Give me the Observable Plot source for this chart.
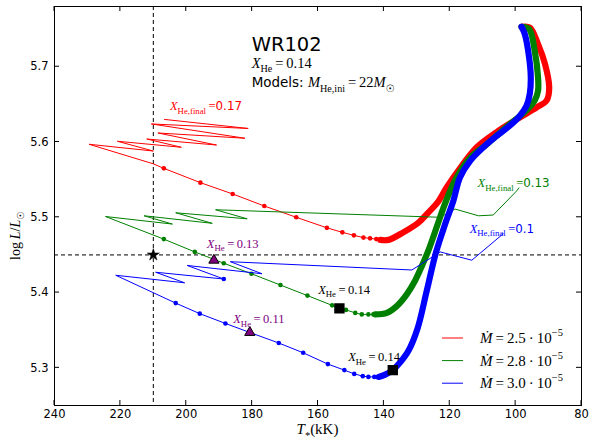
<!DOCTYPE html>
<html><head><meta charset="utf-8">
<script src="https://cdn.jsdelivr.net/npm/d3@7"></script>
<script src="https://cdn.jsdelivr.net/npm/@observablehq/plot@0.6"></script>
<style>html,body{margin:0;padding:0;background:#fff}svg{display:block}</style>
</head><body><div id="chart"></div>
<script>
// ---- axes ----
const xTicks = [240, 220, 200, 180, 160, 140, 120, 100, 80];
const yTicks = [5.3, 5.4, 5.5, 5.6, 5.7];
const xDomain = [240, 80];
const yDomain = [5.25, 5.78];

// ---- red track: Mdot = 2.5e-5 ----  [T (kK), log L]
const redThick = [[98.2,5.753],[95.7,5.752],[93.2,5.730],[91.1,5.704],[89.8,5.672],[90.6,5.655],[93.6,5.646],[99.7,5.630],[105.8,5.613],[111.8,5.593],[116.4,5.568],[120.9,5.540],[123.8,5.519],[126.6,5.506],[129.5,5.493],[134.1,5.480],[138.6,5.470],[141.1,5.470]];
const redDots = [[142.3,5.471],[144.2,5.472],[146.2,5.473],[149.1,5.476],[152.6,5.480],[157.3,5.486],[166.6,5.500],[176.3,5.515],[185.9,5.531],[195.7,5.546],[206.8,5.565]];
const redRest = [[210.0,5.571],[229.5,5.597],[210.0,5.588],[220.9,5.601],[201.5,5.593],[212.0,5.604],[190.8,5.596],[208.6,5.612],[182.2,5.605],[210.6,5.624],[181.2,5.618],[206.6,5.630]];

// ---- green track: Mdot = 2.8e-5 ----
const greenThick = [[98.2,5.753],[95.9,5.750],[94.2,5.721],[93.2,5.686],[93.2,5.668],[94.2,5.655],[96.7,5.642],[101.7,5.624],[108.8,5.597],[113.8,5.579],[117.9,5.553],[121.1,5.522],[123.8,5.489],[126.3,5.458],[128.4,5.436],[130.5,5.416],[133.0,5.398],[136.1,5.382],[139.1,5.373],[142.6,5.371]];
const greenDots = [[143.2,5.371],[144.7,5.371],[146.7,5.371],[148.7,5.373],[151.5,5.377],[155.7,5.383],[163.2,5.396],[171.4,5.410],[180.2,5.425],[188.6,5.439],[197.4,5.454],[206.8,5.471]];
const greenRest = [[224.5,5.501],[204.2,5.491],[212.8,5.502],[192.1,5.492],[203.2,5.506],[181.5,5.498],[191.1,5.510],[122.9,5.500],[118.4,5.511],[111.3,5.502],[106.8,5.503],[99.7,5.535],[99.0,5.539]];

// ---- blue track: Mdot = 3.0e-5 ----
const blueThick = [[98.2,5.753],[97.2,5.743],[95.9,5.712],[95.4,5.686],[95.7,5.664],[96.7,5.648],[98.7,5.635],[101.7,5.622],[105.8,5.608],[109.8,5.593],[113.8,5.575],[116.9,5.553],[118.9,5.522],[121.4,5.491],[124.2,5.453],[127.0,5.402],[129.8,5.352],[132.5,5.323],[135.1,5.307],[137.3,5.297],[139.6,5.291],[141.6,5.288]];
const blueDots = [[142.9,5.288],[144.7,5.288],[146.4,5.289],[149.0,5.292],[152.0,5.297],[157.0,5.305],[164.5,5.320],[171.9,5.333],[180.7,5.347],[188.1,5.359],[195.9,5.372],[203.2,5.386],[188.6,5.418]];
const blueRest = [[221.4,5.423],[200.5,5.413],[209.3,5.427],[188.6,5.418],[199.7,5.436],[177.0,5.425],[186.6,5.441],[131.5,5.430],[122.9,5.454],[113.3,5.443],[103.8,5.478]];

// ---- markers ----
const squares = [[153.5,5.379],[137.3,5.297]];
const triangles = [[191.6,5.443],[180.7,5.347]];
const star = [[210, 5.45]];
const refT = [210];
const refL = [5.45];

// ---- legend ----
const legendColors = ["#ff0000", "#008000", "#0000ff"];
const legendValues = ["2.5", "2.8", "3.0"];

const SERIF = "'Liberation Serif','DejaVu Serif',serif";
const SANS = "'DejaVu Sans',sans-serif";

const X = d => d[0], Y = d => d[1];
function track(thick, dots, rest, color) {
  const main = [...thick, ...dots.filter(d => !rest.some(r => r[0] === d[0] && r[1] === d[1])), ...rest];
  return [
    Plot.line(main, {x: X, y: Y, stroke: color, strokeWidth: 1}),
    Plot.dot(dots, {x: X, y: Y, r: 2.3, fill: color, stroke: "none"}),
    Plot.line(thick, {x: X, y: Y, stroke: color, strokeWidth: 6.2, curve: "catmull-rom", strokeLinecap: "round", strokeLinejoin: "round"})
  ];
}

const chart = Plot.plot({
  width: 609, height: 441,
  marginLeft: 54, marginRight: 28, marginTop: 6, marginBottom: 36,
  style: {fontFamily: SANS, fontSize: "11.5px", background: "white", color: "black", overflow: "visible"},
  x: {domain: xDomain},
  y: {domain: yDomain},
  marks: [
    Plot.axisX({ticks: xTicks, tickSize: 0, tickPadding: 4, label: null, tickFormat: d => String(d)}),
    Plot.axisY({ticks: yTicks, tickSize: 0, tickPadding: 6, label: null, tickFormat: d3.format(".1f")}),
    Plot.ruleX(refT, {stroke: "black", strokeWidth: 1, strokeDasharray: "4,3"}),
    Plot.ruleY(refL, {stroke: "black", strokeWidth: 1, strokeDasharray: "4,3"}),
    ...track(redThick, redDots, redRest, "#ff0000"),
    ...track(greenThick, greenDots, greenRest, "#008000"),
    ...track(blueThick, blueDots, blueRest, "#0000ff"),
    Plot.dot(squares, {x: X, y: Y, symbol: "square", r: 5, fill: "black", stroke: "black"}),
    Plot.dot(triangles, {x: X, y: Y, symbol: "triangle", r: 3.8, fill: "#800080", stroke: "black", strokeWidth: 1}),
    Plot.dot(star, {x: X, y: Y, symbol: "star", r: 3.8, fill: "black", stroke: "black", strokeWidth: 0.5}),
    Plot.frame({stroke: "black", strokeWidth: 1})
  ]
});
document.getElementById("chart").appendChild(chart);

const sx = chart.scale("x"), sy = chart.scale("y");
const svg = d3.select(chart);
const [xL, xR] = [sx.apply(240), sx.apply(80)];
const [yB, yT] = [sy.apply(5.25), sy.apply(5.78)];
const tk = svg.append("g").attr("stroke", "black").attr("stroke-width", 1);
for (const v of xTicks) {
  const px = sx.apply(v);
  tk.append("line").attr("x1", px).attr("x2", px).attr("y1", yB).attr("y2", yB - 5);
  tk.append("line").attr("x1", px).attr("x2", px).attr("y1", yT).attr("y2", yT + 5);
}
for (const v of yTicks) {
  const py = sy.apply(v);
  tk.append("line").attr("y1", py).attr("y2", py).attr("x1", xL).attr("x2", xL + 5);
  tk.append("line").attr("y1", py).attr("y2", py).attr("x1", xR).attr("x2", xR - 5);
}

function rich(x, y, size, color, parts, opts = {}) {
  const t = svg.append("text").attr("x", x).attr("y", y).attr("font-size", size)
    .attr("fill", color).attr("font-family", opts.family || SERIF)
    .attr("text-anchor", opts.anchor || "start").attr("style", "white-space:pre");
  if (opts.rotate) t.attr("transform", `rotate(${opts.rotate},${x},${y})`);
  let prev = 0;
  for (const p of parts) {
    const b = p.b || 0;
    const ts = t.append("tspan").text(p.t).attr("font-size", size * (p.s || 1));
    if (b !== prev) ts.attr("dy", (b - prev) * size);
    prev = b;
    if (p.i) ts.attr("font-style", "italic");
    if (p.sans) ts.attr("font-family", SANS);
    if (p.dx) ts.attr("dx", p.dx * size);
  }
  return t;
}
const sub = (t) => ({t, s: 0.7, b: 0.3});
const sup = (t) => ({t, s: 0.7, b: -0.45});

// annotations (data coordinates)
const title = [180.0, 5.720];
const titleLine2 = [180.0, 5.698];
const titleLine3 = [180.0, 5.672];
rich(sx.apply(title[0]), sy.apply(title[1]), 19.5, "black", [{t: "WR102"}], {family: SANS});
rich(sx.apply(titleLine2[0]), sy.apply(titleLine2[1]), 14.5, "black", [{t: "X", i: 1}, sub("He"), {t: "\u2009=\u20090.14", b: 0}]);
rich(sx.apply(titleLine3[0]), sy.apply(titleLine3[1]), 14.5, "black", [{t: "Models: ", sans: 1, s: 0.93}, {t: "M", i: 1}, sub("He,ini"), {t: "\u2009=\u200922", b: 0}, {t: "M", i: 1}, {t: "\u2609", s: 0.7, b: 0.3, sans: 1}]);

const finalLabels = [
  {pos: [204.8, 5.642], color: "#ff0000", val: "0.17"},
  {pos: [111.4, 5.539], color: "#008000", val: "0.13"},
  {pos: [113.8, 5.479], color: "#0000ff", val: "0.1"}
];
for (const f of finalLabels) {
  rich(sx.apply(f.pos[0]), sy.apply(f.pos[1]), 12.5, f.color, [{t: "X", i: 1}, sub("He,final"), {t: "\u2009=", b: 0}, {t: f.val, sans: 1, s: 0.95}]);
}
const heLabels = [
  {pos: [193.6, 5.459], color: "#800080", val: "0.13"},
  {pos: [185.6, 5.359], color: "#800080", val: "0.11"},
  {pos: [159.8, 5.398], color: "#000000", val: "0.14"},
  {pos: [150.7, 5.308], color: "#000000", val: "0.14"}
];
for (const h of heLabels) {
  rich(sx.apply(h.pos[0]), sy.apply(h.pos[1]), 12.5, h.color, [{t: "X", i: 1}, sub("He"), {t: "\u2009=\u2009" + h.val, b: 0}]);
}

// axis labels
rich((xL + xR) / 2, yB + 29, 15, "black", [{t: "T", i: 1}, {t: "*", s: 0.7, b: 0.3}, {t: "(kK)", b: 0}], {anchor: "middle"});
rich(20, (yB + yT) / 2 + 30, 14, "black", [{t: "log"}, {t: "\u2009L", i: 1}, {t: "/", i: 0}, {t: "L", i: 1}, {t: "\u2609", s: 0.7, b: 0.3, sans: 1}], {anchor: "middle", rotate: -90});

// legend (lower right)
legendColors.forEach((c, i) => {
  const ly = yB - 67 + i * 22.6;
  svg.append("line").attr("x1", xR - 139).attr("x2", xR - 118).attr("y1", ly).attr("y2", ly).attr("stroke", c).attr("stroke-width", 1);
  rich(xR - 101, ly + 5, 15, "black", [{t: "\u1E40", i: 1}, {t: "\u2009=\u2009" + legendValues[i] + "\u2009\u00B7\u200910"}, sup("\u22125")]);
});
</script>
</body></html>
